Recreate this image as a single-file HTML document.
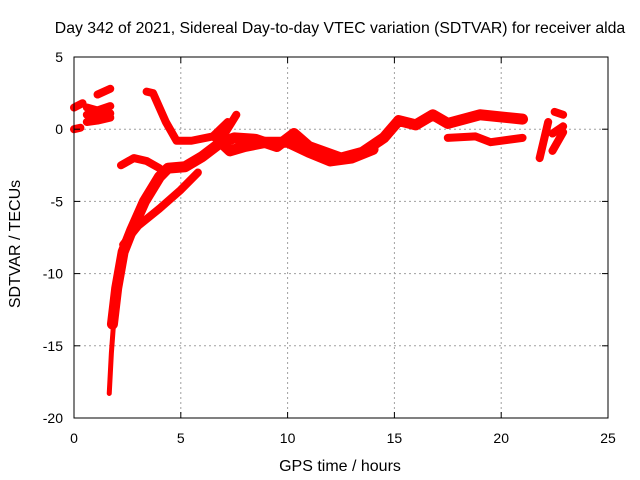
<!DOCTYPE html>
<html><head><meta charset="utf-8"><style>
body{margin:0;background:#fff}
svg{display:block;font-family:"Liberation Sans",sans-serif}
</style></head><body>
<svg id="chart" width="640" height="480">
<rect x="0" y="0" width="640" height="480" fill="#fff"/>
<text x="340" y="33" font-size="15.8" text-anchor="middle">Day 342 of 2021, Sidereal Day-to-day VTEC variation (SDTVAR) for receiver alda</text>
<g id="grid"></g>
<g id="series"></g>
<rect x="74" y="57" width="534" height="361" fill="none" stroke="#000" stroke-width="1"/>
<g id="ticks"></g>
<text x="340" y="471" font-size="16" text-anchor="middle">GPS time / hours</text>
<text transform="translate(20,244) rotate(-90)" font-size="16" text-anchor="middle">SDTVAR / TECUs</text>
</svg>
<script>
const xTicks=[0,5,10,15,20,25];
const yTicks=[5,0,-5,-10,-15,-20];
const trackEarly1=[[0,1.5],[0.4,1.8]];
const trackEarly2=[[0,0],[0.3,0.1]];
const trackEarly3=[[0.6,1.5],[1.1,1.3],[1.7,1.6]];
const trackEarly4=[[0.6,0.5],[1.1,0.6],[1.7,0.8]];
const trackEarly5=[[1.1,2.4],[1.7,2.8]];
const trackEarly6=[[0.6,1.0],[1.7,1.1]];
const trackMain=[[1.8,-13.5],[2.0,-11],[2.3,-8.5],[2.7,-7],[3.3,-5],[4.0,-3.3],[4.4,-2.7],[5.2,-2.6],[6.0,-1.9],[6.8,-1.0],[7.5,-0.6],[8.5,-0.7],[9.5,-1.2],[10.3,-0.3],[11,-1.2],[12.5,-2],[13.5,-1.6],[14.5,-0.6],[15.2,0.6],[16,0.3],[16.8,1.0],[17.5,0.4],[18.5,0.8],[19,1.0],[21.0,0.7]];
const trackTail=[[1.65,-18.3],[1.75,-15.5],[1.9,-12.5],[2.1,-10]];
const trackB=[[2.3,-8],[3,-6.7],[4,-5.5],[5,-4.2],[5.8,-3]];
const trackC=[[2.2,-2.5],[2.8,-2.0],[3.4,-2.2],[4.0,-2.7]];
const trackD=[[3.4,2.6],[3.7,2.5],[4.3,0.5],[4.8,-0.8],[5.5,-0.8],[6.5,-0.5],[7.2,0.5]];
const trackE=[[6.6,-0.6],[7.1,-0.2],[7.6,1.0]];
const trackF=[[6.8,-0.8],[7.3,-1.5],[8.0,-1.2],[9.0,-0.9],[10,-0.9],[11,-1.6],[12,-2.2],[13,-2.0],[14,-1.4]];
const trackLow=[[17.5,-0.6],[18.8,-0.5],[19.5,-0.9],[21,-0.6]];
const trackLate1=[[21.8,-2],[22.2,0.5]];
const trackLate2=[[22.4,-1.5],[22.9,-0.2]];
const trackLate3=[[22.5,1.2],[22.9,1.0]];
const trackLate4=[[22.4,-0.3],[22.9,0.2]];
const tracks=[trackEarly1,trackEarly2,trackEarly3,trackEarly4,trackEarly5,trackEarly6,trackMain,trackTail,trackB,trackC,trackD,trackE,trackF,trackLow,trackLate1,trackLate2,trackLate3,trackLate4];
const X=t=>74+t*534/25, Y=v=>57+(5-v)*361/25;
const NS='http://www.w3.org/2000/svg';
const grid=document.getElementById('grid'),ticks=document.getElementById('ticks'),ser=document.getElementById('series');
function mk(tag,at,p){const e=document.createElementNS(NS,tag);for(const k in at)e.setAttribute(k,at[k]);p.appendChild(e);return e;}
xTicks.forEach(t=>{const x=X(t);
 if(t>0&&t<25){const g=mk('line',{x1:x,x2:x,y1:57,y2:418,stroke:'#a0a0a0','stroke-dasharray':'2,3'},grid);
 
 }
 mk('line',{x1:x,x2:x,y1:418,y2:412,stroke:'#000'},ticks);mk('line',{x1:x,x2:x,y1:57,y2:63,stroke:'#000'},ticks);
 const l=mk('text',{x:x,y:443,'font-size':14,'text-anchor':'middle'},ticks);l.textContent=t;
 
 });
yTicks.forEach(v=>{const y=Y(v);
 if(v<5&&v>-20){const g=mk('line',{x1:74,x2:608,y1:y,y2:y,stroke:'#a0a0a0','stroke-dasharray':'2,3'},grid);
 
 }
 mk('line',{x1:74,x2:80,y1:y,y2:y,stroke:'#000'},ticks);mk('line',{x1:608,x2:602,y1:y,y2:y,stroke:'#000'},ticks);
 const l=mk('text',{x:63,y:y+5,'font-size':14,'text-anchor':'end'},ticks);l.textContent=v;
 
 });
tracks.forEach((tr,i)=>{
 const w=(tr===trackMain||tr===trackF)?11:(tr===trackTail?5:8);
 const p=mk('polyline',{points:tr.map(d=>X(d[0])+','+Y(d[1])).join(' '),fill:'none',stroke:'#ff0000','stroke-width':w,'stroke-linejoin':'round','stroke-linecap':'round'},ser);
 
 
});
</script>
</body></html>
